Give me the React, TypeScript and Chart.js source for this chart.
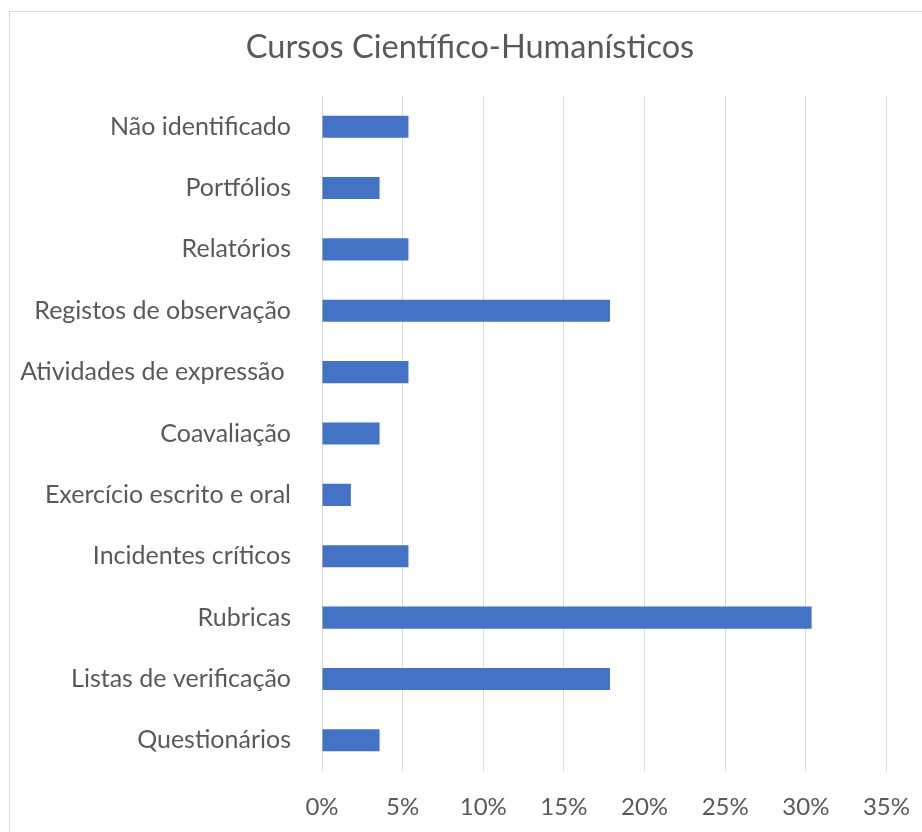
import React, { useEffect, useRef } from "react";
import { Chart, registerables } from "chart.js";

Chart.register(...registerables);

const categories: string[] = [
  "Não identificado",
  "Portfólios",
  "Relatórios",
  "Registos de observação",
  "Atividades de expressão ",
  "Coavaliação",
  "Exercício escrito e oral",
  "Incidentes críticos",
  "Rubricas",
  "Listas de verificação",
  "Questionários",
];

const values: number[] = [5.36, 3.57, 5.36, 17.86, 5.36, 3.57, 1.79, 5.36, 30.36, 17.86, 3.57];

const xTicks: number[] = [0, 5, 10, 15, 20, 25, 30, 35];

const title = "Cursos Científico-Humanísticos";

const FONT = "Lato, 'Open Sans', sans-serif";
const TEXT = "#595959";

// Center the title on the whole chart box instead of the padded layout area.
const centerTitle = {
  id: "centerTitle",
  afterLayout(chart: any) {
    const tb = chart.titleBlock;
    if (tb) {
      tb.left = 0;
      tb.right = chart.width - 2;
    }
  },
};

export default function App() {
  const ref = useRef<HTMLCanvasElement | null>(null);

  useEffect(() => {
    document.body.style.margin = "0";
    document.body.style.overflow = "hidden";
    const ctx = ref.current!;
    const chart = new Chart(ctx, {
      type: "bar",
      data: {
        labels: categories,
        datasets: [
          {
            data: values,
            backgroundColor: "#4472C4",
            borderWidth: 0,
            categoryPercentage: 1,
            barPercentage: 0.36,
          },
        ],
      },
      plugins: [centerTitle],
      options: {
        indexAxis: "y",
        animation: false,
        responsive: false,
        maintainAspectRatio: false,
        devicePixelRatio: 1,
        layout: { padding: { left: 0, right: 44, top: 0, bottom: 0 } },
        plugins: {
          legend: { display: false },
          tooltip: { enabled: false },
          title: {
            display: true,
            text: title,
            color: TEXT,
            font: { family: FONT, size: 32.5, weight: "normal", lineHeight: 1.2 },
            padding: { top: 16, bottom: 29 },
          },
        },
        scales: {
          x: {
            min: 0,
            max: 35,
            afterBuildTicks: (scale: any) => {
              scale.ticks = xTicks.map((v) => ({ value: v }));
            },
            afterFit: (scale: any) => {
              scale.height = 73;
            },
            grid: { color: "#d9d9d9", drawTicks: false, lineWidth: 1 },
            border: { display: false },
            ticks: {
              color: TEXT,
              padding: 22,
              font: { family: FONT, size: 24 },
              callback: (v: any) => v + "%",
            },
          },
          y: {
            afterFit: (scale: any) => {
              scale.width = 312;
            },
            grid: { display: false, drawTicks: false },
            border: { display: false },
            ticks: {
              color: TEXT,
              padding: 31,
              font: { family: FONT, size: 25 },
            },
          },
        },
      },
    } as any);
    return () => chart.destroy();
  }, []);

  return (
    <div
      style={{
        position: "fixed",
        left: 0,
        top: 0,
        width: 922,
        height: 832,
        overflow: "hidden",
        background: "#ffffff",
      }}
    >
      <div
        style={{
          position: "absolute",
          left: 9,
          top: 11,
          width: 922,
          height: 832,
          border: "1px solid #d9d9d9",
          background: "#ffffff",
        }}
      >
        <canvas ref={ref} width={922} height={832} style={{ display: "block" }} />
      </div>
    </div>
  );
}
